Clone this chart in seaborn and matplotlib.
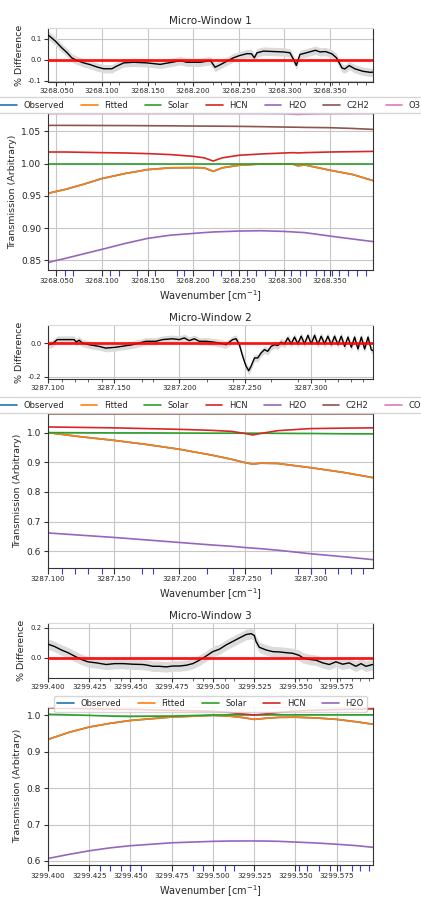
import numpy as np
import matplotlib
matplotlib.use("Agg")
import matplotlib.pyplot as plt
from matplotlib.ticker import FormatStrFormatter, MultipleLocator, FixedLocator
import seaborn as sns

# ---------------- DATA ----------------
# Micro-Window 1
res1_x = [3268.0416, 3268.049, 3268.056, 3268.062, 3268.067, 3268.073, 3268.080, 3268.087, 3268.095,
          3268.102, 3268.111, 3268.116, 3268.124, 3268.135, 3268.149, 3268.164, 3268.178, 3268.186,
          3268.193, 3268.208, 3268.219, 3268.224, 3268.230, 3268.237, 3268.244, 3268.251, 3268.259,
          3268.264, 3268.267, 3268.270, 3268.277, 3268.288, 3268.299, 3268.306, 3268.310, 3268.313,
          3268.317, 3268.324, 3268.334, 3268.339, 3268.345, 3268.352, 3268.357, 3268.363, 3268.366,
          3268.371, 3268.377, 3268.386, 3268.394, 3268.397]
res1_y = [0.117, 0.090, 0.058, 0.034, 0.010, -0.003, -0.014, -0.022, -0.034,
          -0.042, -0.042, -0.030, -0.014, -0.011, -0.014, -0.021, -0.010, -0.003,
          -0.011, -0.011, -0.003, -0.035, -0.022, -0.006, 0.010, 0.021, 0.030,
          0.029, 0.010, 0.034, 0.042, 0.040, 0.038, 0.034, 0.002, -0.026,
          0.026, 0.034, 0.046, 0.038, 0.040, 0.029, 0.010, -0.038, -0.043,
          -0.027, -0.042, -0.054, -0.059, -0.058]
tr1_x = [3268.040, 3268.060, 3268.080, 3268.100, 3268.125, 3268.150, 3268.175, 3268.200, 3268.212,
         3268.222, 3268.232, 3268.250, 3268.275, 3268.300, 3268.310, 3268.315, 3268.322, 3268.350,
         3268.375, 3268.398]
fit1 = [0.9536, 0.960, 0.968, 0.9768, 0.9845, 0.9907, 0.9935, 0.9938, 0.9935,
        0.988, 0.9935, 0.9974, 0.9995, 0.9995, 0.999, 0.9965, 0.998, 0.9897,
        0.983, 0.9732]
obs1 = [0.9536, 0.960, 0.968, 0.9768, 0.9845, 0.9907, 0.9935, 0.9938, 0.9935,
        0.988, 0.9935, 0.9974, 0.9995, 0.9995, 0.999, 0.9965, 0.998, 0.9897,
        0.983, 0.9732]
sol1 = [0.9995, 0.9995, 0.9995, 0.9995, 0.9995, 0.9995, 0.9995, 0.9995, 0.9995,
        0.9995, 0.9995, 0.9995, 0.9995, 0.9995, 0.9995, 0.9995, 0.9995, 0.9995,
        0.9995, 0.9995]
hcn1 = [1.018, 1.018, 1.0175, 1.017, 1.0165, 1.0155, 1.014, 1.0113, 1.009,
        1.004, 1.009, 1.0129, 1.015, 1.0165, 1.017, 1.0165, 1.017, 1.018,
        1.0185, 1.019]
h2o1 = [0.8464, 0.853, 0.860, 0.867, 0.876, 0.884, 0.889, 0.8917, 0.893,
        0.894, 0.8945, 0.8954, 0.8959, 0.8948, 0.894, 0.8935, 0.893, 0.8876,
        0.883, 0.8789]
c2h2_1 = [1.0593, 1.0593, 1.0592, 1.0591, 1.059, 1.0588, 1.0586, 1.0583, 1.0582,
          1.0581, 1.058, 1.0578, 1.0573, 1.0567, 1.0565, 1.0564, 1.0562, 1.0557,
          1.0545, 1.053]
o3_1 = [1.0776, 1.0776, 1.0776, 1.0776, 1.0776, 1.0776, 1.0776, 1.0776, 1.0776,
        1.0776, 1.0776, 1.0776, 1.0776, 1.0774, 1.0766, 1.0762, 1.0768, 1.0774,
        1.0775, 1.0776]
lines1 = [3268.0597, 3268.0684, 3268.1093, 3268.1188, 3268.1386, 3268.1585, 3268.1820, 3268.1895,
          3268.2220, 3268.2310, 3268.2410, 3268.2590, 3268.2690, 3268.2790, 3268.2900, 3268.3070,
          3268.3168, 3268.3240, 3268.3345, 3268.3430, 3268.3520, 3268.3600, 3268.3700, 3268.3800,
          3268.3890]

# Micro-Window 2
res2_x = [3287.1000, 3287.1033, 3287.1071, 3287.1135, 3287.1198, 3287.1216, 3287.1237, 3287.1262,
          3287.1313, 3287.1389, 3287.1440, 3287.1517, 3287.1593, 3287.1644, 3287.1695, 3287.1746,
          3287.1822, 3287.1873, 3287.1949, 3287.2000, 3287.2038, 3287.2076, 3287.2115, 3287.2153,
          3287.2204, 3287.2254, 3287.2305, 3287.2356, 3287.2407, 3287.2433, 3287.2458, 3287.2483,
          3287.2509, 3287.2529, 3287.2547, 3287.2573, 3287.2598, 3287.2623, 3287.2649, 3287.2674,
          3287.2700, 3287.2725, 3287.2751, 3287.2776, 3287.2802, 3287.2827, 3287.2853, 3287.2878,
          3287.2903, 3287.2929, 3287.2954, 3287.2980, 3287.3005, 3287.3031, 3287.3056, 3287.3081,
          3287.3107, 3287.3132, 3287.3158, 3287.3183, 3287.3209, 3287.3234, 3287.3260, 3287.3285,
          3287.3311, 3287.3336, 3287.3361, 3287.3387, 3287.3412, 3287.3438, 3287.3463, 3287.3476]
res2_y = [-0.010, -0.004, 0.020, 0.020, 0.020, 0.006, 0.016, 0.000,
          -0.010, -0.020, -0.030, -0.025, -0.016, -0.010, 0.000, 0.010,
          0.010, 0.020, 0.025, 0.020, 0.030, 0.014, 0.025, 0.010,
          0.010, 0.006, 0.000, -0.010, 0.020, 0.025, -0.010, -0.078,
          -0.137, -0.163, -0.137, -0.088, -0.088, -0.059, -0.039, -0.049,
          -0.020, -0.010, -0.015, 0.005, -0.005, 0.030, -0.005, 0.035,
          -0.005, 0.040, -0.005, 0.045, -0.005, 0.045, -0.008, 0.040,
          -0.005, 0.040, -0.010, 0.040, -0.010, 0.040, -0.020, 0.035,
          -0.025, 0.035, -0.035, 0.035, -0.035, 0.035, -0.040, -0.045]
tr2_x = [3287.100, 3287.125, 3287.150, 3287.175, 3287.200, 3287.225, 3287.240, 3287.250,
         3287.256, 3287.262, 3287.275, 3287.300, 3287.325, 3287.348]
fit2 = [1.000, 0.986, 0.974, 0.960, 0.944, 0.924, 0.910, 0.899, 0.894, 0.897, 0.896, 0.882, 0.866, 0.848]
obs2 = [1.000, 0.986, 0.974, 0.960, 0.944, 0.924, 0.910, 0.899, 0.894, 0.897, 0.896, 0.882, 0.866, 0.848]
sol2 = [1.000, 0.9995, 0.999, 0.999, 0.9985, 0.998, 0.998, 0.998, 0.998, 0.998, 0.9975, 0.997, 0.996, 0.9955]
hcn2 = [1.019, 1.0175, 1.016, 1.0135, 1.011, 1.0075, 1.004, 0.997, 0.992, 0.997, 1.0065, 1.0135, 1.015, 1.016]
h2o2 = [0.662, 0.6545, 0.647, 0.6385, 0.630, 0.6215, 0.617, 0.613, 0.611, 0.609, 0.604, 0.592, 0.582, 0.572]
c2h2_2 = [1.061, 1.061, 1.061, 1.061, 1.061, 1.061, 1.061, 1.061, 1.061, 1.061, 1.061, 1.061, 1.061, 1.061]
co2 = [1.085, 1.085, 1.085, 1.085, 1.085, 1.085, 1.085, 1.085, 1.085, 1.085, 1.085, 1.085, 1.085, 1.085]
lines2 = [3287.1104, 3287.1205, 3287.1307, 3287.1408, 3287.1713, 3287.1802, 3287.2208, 3287.2410,
          3287.2702, 3287.2905, 3287.3007, 3287.3108, 3287.3209, 3287.3311, 3287.3400]

# Micro-Window 3
res3_x = [3299.4000, 3299.4040, 3299.4081, 3299.4121, 3299.4161, 3299.4202, 3299.4242, 3299.4293,
          3299.4353, 3299.4404, 3299.4454, 3299.4515, 3299.4575, 3299.4605, 3299.4636, 3299.4676,
          3299.4716, 3299.4757, 3299.4797, 3299.4837, 3299.4878, 3299.4918, 3299.4958, 3299.4999,
          3299.5039, 3299.5080, 3299.5120, 3299.5160, 3299.5201, 3299.5231, 3299.5251, 3299.5261,
          3299.5281, 3299.5322, 3299.5362, 3299.5402, 3299.5443, 3299.5483, 3299.5523, 3299.5544,
          3299.5584, 3299.5624, 3299.5665, 3299.5705, 3299.5745, 3299.5786, 3299.5826, 3299.5866,
          3299.5897, 3299.5927, 3299.5967]
res3_y = [0.091, 0.075, 0.052, 0.034, 0.011, -0.011, -0.027, -0.034,
          -0.045, -0.039, -0.039, -0.043, -0.045, -0.050, -0.057, -0.057,
          -0.061, -0.055, -0.055, -0.050, -0.039, -0.016, 0.011, 0.041,
          0.057, 0.086, 0.109, 0.132, 0.155, 0.161, 0.148, 0.109,
          0.070, 0.052, 0.041, 0.039, 0.034, 0.030, 0.016, 0.000,
          -0.011, -0.016, -0.034, -0.045, -0.027, -0.043, -0.034, -0.057,
          -0.039, -0.057, -0.045]
tr3_x = [3299.400, 3299.4125, 3299.425, 3299.4375, 3299.450, 3299.475, 3299.500, 3299.510, 3299.518,
         3299.525, 3299.532, 3299.540, 3299.550, 3299.5625, 3299.575, 3299.5875, 3299.598]
fit3 = [0.934, 0.953, 0.968, 0.978, 0.986, 0.9954, 1.000, 0.998, 0.994,
        0.989, 0.992, 0.9945, 0.995, 0.993, 0.989, 0.982, 0.975]
obs3 = [0.934, 0.953, 0.968, 0.978, 0.986, 0.9954, 1.000, 0.998, 0.994,
        0.989, 0.992, 0.9945, 0.995, 0.993, 0.989, 0.982, 0.975]
sol3 = [1.003, 1.0015, 1.000, 0.998, 0.997, 0.998, 1.001, 1.0015, 1.0015,
        1.0015, 1.0015, 1.0015, 1.0015, 1.0015, 1.0015, 1.0015, 1.0015]
hcn3 = [1.021, 1.0195, 1.018, 1.017, 1.0164, 1.014, 1.011, 1.008, 1.004,
        1.001, 1.004, 1.008, 1.012, 1.0145, 1.016, 1.017, 1.018]
h2o3 = [0.607, 0.618, 0.628, 0.636, 0.642, 0.650, 0.654, 0.6548, 0.655,
        0.655, 0.6548, 0.654, 0.652, 0.6495, 0.646, 0.642, 0.637]
lines3 = [3299.4316, 3299.4376, 3299.4441, 3299.4498, 3299.4562, 3299.4878, 3299.4942, 3299.5074,
          3299.5130, 3299.5519, 3299.5570, 3299.5640, 3299.5707, 3299.5772, 3299.5843, 3299.5893,
          3299.5944]

# ---------------- STYLE ----------------
sns.set_style("whitegrid")
plt.rcParams['font.family'] = ['DejaVu Sans']
pal = sns.color_palette("tab10")
COL = {'Observed': pal[0], 'Fitted': pal[1], 'Solar': pal[2], 'HCN': pal[3],
       'H2O': pal[4], 'C2H2': pal[5], 'O3': pal[6], 'CO': pal[6]}

fig = plt.figure(figsize=(4.21, 9.05), dpi=100)
L, W = 48 / 421, 325 / 421


def frac(top, bottom):
    return [L, 1 - bottom / 905, W, (bottom - top) / 905]


def style_axes(ax, xlim, step):
    ax.set_xlim(*xlim)
    ax.xaxis.set_major_locator(MultipleLocator(step))
    ax.xaxis.set_major_formatter(FormatStrFormatter('%.3f'))
    ax.grid(True, which='major', color='0.78', lw=0.8)
    for s in ['left', 'bottom', 'right']:
        ax.spines[s].set_color('0.2')
        ax.spines[s].set_linewidth(0.8)
    ax.spines['top'].set_color('0.85')


def residual(pos, title, x, y, band, xlim, step, ylim, yticks, lines):
    ax = fig.add_axes(frac(*pos))
    xa, ya = np.array(x), np.array(y)
    ax.fill_between(xa, ya - band, ya + band, color='0.86', lw=0, zorder=1)
    sns.lineplot(x=xa, y=ya, ax=ax, color='black', lw=1.0, errorbar=None, sort=False, zorder=3)
    ax.axhline(0, color='red', lw=2.0, alpha=0.9, zorder=4)
    style_axes(ax, xlim, step)
    ax.set_ylim(*ylim)
    ax.set_yticks(yticks)
    ax.yaxis.set_major_formatter(FormatStrFormatter('%.1f'))
    ax.xaxis.set_minor_locator(FixedLocator(lines))
    ax.tick_params(axis='x', which='major', bottom=True, length=3, width=0.8, color='0.2',
                   labelsize=5.2, pad=1.5)
    ax.tick_params(axis='x', which='minor', bottom=True, length=2, width=0.6, color='0.3')
    ax.tick_params(axis='y', left=True, length=3, width=0.8, color='0.2', labelsize=5, pad=1.5)
    ax.set_title(title, fontsize=7.5, pad=3)
    ax.set_ylabel('% Difference', fontsize=6.8, labelpad=3)
    ax.set_xlabel('')
    return ax


def transmission(pos, x, series, xlim, step, ylim, yticks, lines, ncol, leg_loc, leg_anchor):
    ax = fig.add_axes(frac(*pos))
    xa = np.array(x)
    handles = []
    for name, vals in series:
        sns.lineplot(x=xa, y=np.array(vals), ax=ax, color=COL[name], lw=1.2,
                     errorbar=None, sort=False, label=name)
    h, l = ax.get_legend_handles_labels()
    style_axes(ax, xlim, step)
    ax.set_ylim(*ylim)
    ax.set_yticks(yticks)
    ax.xaxis.set_minor_locator(FixedLocator(lines))
    ax.tick_params(axis='x', which='major', bottom=True, length=4, width=0.8, color='0.2',
                   labelsize=5.2, pad=2)
    ax.tick_params(axis='x', which='minor', bottom=True, length=4, width=0.8, color='#3b3bd6')
    ax.tick_params(axis='y', left=True, length=3, width=0.8, color='0.2', labelsize=6.5, pad=2)
    ax.set_xlabel('Wavenumber [cm$^{-1}$]', fontsize=7, labelpad=3)
    ax.set_ylabel('Transmission (Arbitrary)', fontsize=6.8, labelpad=3)
    ax.legend(h, l, loc=leg_loc, bbox_to_anchor=leg_anchor, ncol=ncol, fontsize=6,
              borderaxespad=0, frameon=True, fancybox=True)
    return ax


# ---------------- PANEL 1 ----------------
residual((28, 82), 'Micro-Window 1', res1_x, res1_y, 0.02, (3268.041, 3268.397), 0.05,
         (-0.105, 0.152), [-0.1, 0.0, 0.1], lines1)
transmission((113, 270), tr1_x,
             [('Observed', obs1), ('Fitted', fit1), ('Solar', sol1), ('HCN', hcn1),
              ('H2O', h2o1), ('C2H2', c2h2_1), ('O3', o3_1)],
             (3268.041, 3268.397), 0.05, (0.835, 1.0785), [0.85, 0.90, 0.95, 1.00, 1.05], lines1,
             7, 'lower center', (0.5, 1.0))

# ---------------- PANEL 2 ----------------
residual((325, 379), 'Micro-Window 2', res2_x, res2_y, 0.022, (3287.100, 3287.3476), 0.05,
         (-0.212, 0.106), [-0.2, 0.0], lines2)
transmission((413, 568), tr2_x,
             [('Observed', obs2), ('Fitted', fit2), ('Solar', sol2), ('HCN', hcn2),
              ('H2O', h2o2), ('C2H2', c2h2_2), ('CO', co2)],
             (3287.100, 3287.3476), 0.05, (0.544, 1.066), [0.6, 0.7, 0.8, 0.9, 1.0], lines2,
             7, 'lower center', (0.5, 1.0))

# ---------------- PANEL 3 ----------------
residual((623, 678), 'Micro-Window 3', res3_x, res3_y, 0.035, (3299.400, 3299.597), 0.025,
         (-0.135, 0.232), [0.0, 0.2], lines3)
transmission((707, 865), tr3_x,
             [('Observed', obs3), ('Fitted', fit3), ('Solar', sol3), ('HCN', hcn3),
              ('H2O', h2o3)],
             (3299.400, 3299.597), 0.025, (0.589, 1.023), [0.6, 0.7, 0.8, 0.9, 1.0], lines3,
             5, 'center', (0.5, 1.02))

fig.savefig('out.png', dpi=100)
